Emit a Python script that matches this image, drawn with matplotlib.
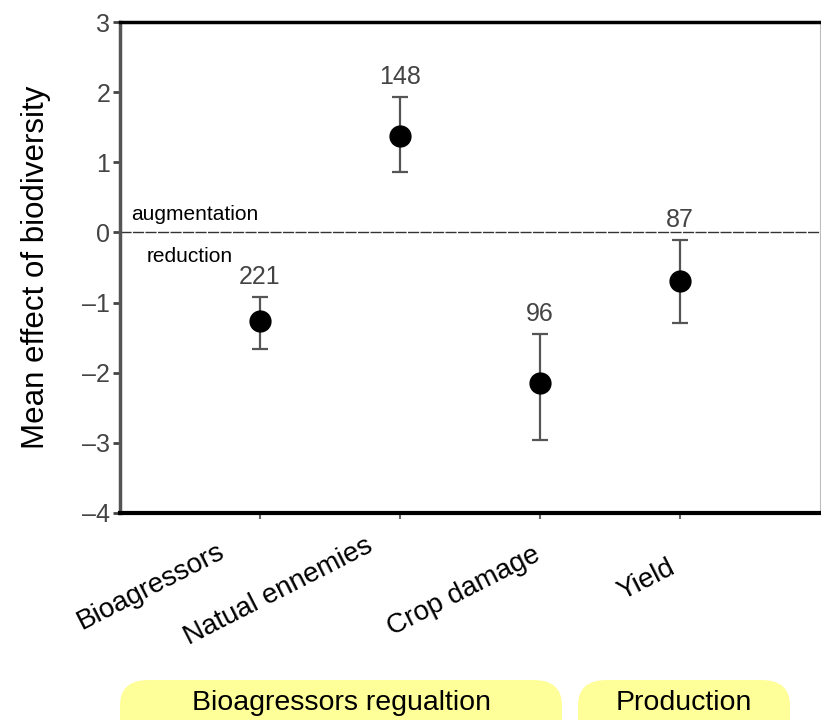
import matplotlib.pyplot as plt
from matplotlib.patches import FancyBboxPatch

plt.rcParams['font.family'] = ['Liberation Sans', 'DejaVu Sans']

categories = ['Bioagressors', 'Natual ennemies', 'Crop damage', 'Yield']
means = [-1.26, 1.38, -2.15, -0.69]
upper = [-0.92, 1.93, -1.45, -0.11]
lower = [-1.66, 0.86, -2.96, -1.29]
counts = ['221', '148', '96', '87']
groups = ['Bioagressors regualtion', 'Production']

fig = plt.figure(figsize=(8.21, 7.2), dpi=100)
ax = fig.add_axes([0.146, 0.2875, 0.853, 0.6819])

xs = list(range(len(categories)))
err_lo = [m - l for m, l in zip(means, lower)]
err_hi = [u - m for m, u in zip(means, upper)]
ax.errorbar(xs, means, yerr=[err_lo, err_hi], fmt='o', color='black',
            ecolor='#555555', elinewidth=1.6, capsize=6, capthick=1.6,
            markersize=15, zorder=3)

for x, u, c in zip(xs, upper, counts):
    ax.annotate(c, (x, u), xytext=(0, 6), textcoords='offset points',
                ha='center', va='bottom', fontsize=18, color='#444444')

ax.axhline(0, color='#333333', lw=1, ls=(0, (8, 1)))
ax.text(-0.92, 0.26, 'augmentation', fontsize=15, va='center')
ax.text(-0.81, -0.34, 'reduction', fontsize=15, va='center')

ax.set_xlim(-1, 4)
ax.set_ylim(-4, 3)
ax.set_yticks(range(-4, 4))
ax.set_yticklabels(['\u20134', '\u20133', '\u20132', '\u20131', '0', '1', '2', '3'])
ax.set_xticks(xs)
ax.set_xticklabels([])
ax.tick_params(axis='y', labelsize=18, labelcolor='#444444', length=5, width=2,
               color='#444444', pad=2)
ax.tick_params(axis='x', length=4, width=1.5, color='#666666')
ax.set_ylabel('Mean effect of biodiversity', fontsize=22.5)
ax.yaxis.set_label_coords(-0.098, 0.5)

ax.spines['left'].set_linewidth(2.5)
ax.spines['left'].set_color('#555555')
ax.spines['bottom'].set_linewidth(3)
ax.spines['top'].set_linewidth(2.5)
ax.spines['right'].set_linewidth(0.8)
ax.spines['right'].set_color('#bbbbbb')

# rotated category labels below the axis
label_pos = [(151, 587), (278, 592), (464, 591), (646, 580)]
for name, (px, py) in zip(categories, label_pos):
    fig.text(px / 821, 1 - py / 720, name, rotation=27, fontsize=20,
             ha='center', va='center', rotation_mode='anchor')

# yellow group boxes
boxes = [(120, 562), (578, 790)]
for (x0, x1), g in zip(boxes, groups):
    p = FancyBboxPatch((x0 / 821, 1 - 750 / 720), (x1 - x0) / 821, 70 / 720,
                       boxstyle='round,pad=0,rounding_size=0.035',
                       transform=fig.transFigure, facecolor='#ffff99',
                       edgecolor='none', clip_on=False)
    fig.add_artist(p)
    fig.text((x0 + x1) / 2 / 821, 1 - 703 / 720, g, fontsize=20.5,
             ha='center', va='center')

fig.savefig('out.png', dpi=100)
